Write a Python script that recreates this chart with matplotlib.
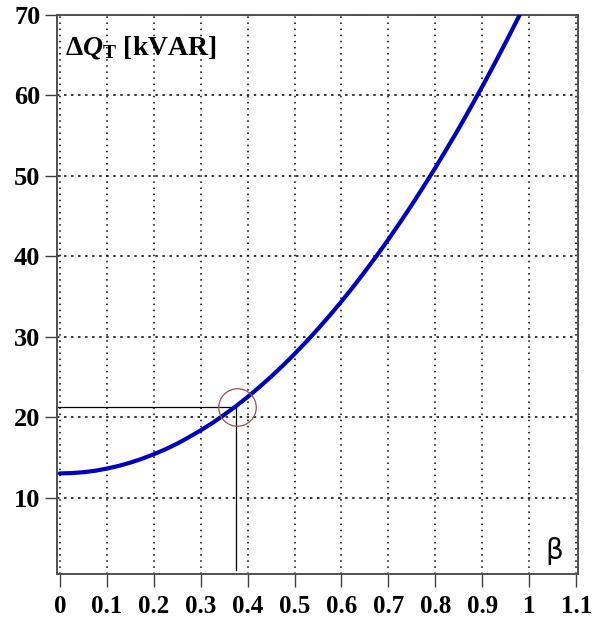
import matplotlib
matplotlib.use("Agg")
from matplotlib import pyplot as plt
import numpy as np

plt.rcParams['mathtext.fontset'] = 'custom'
plt.rcParams['mathtext.rm'] = 'Liberation Serif:bold'
plt.rcParams['mathtext.it'] = 'Liberation Serif:bold:italic'
plt.rcParams['mathtext.bf'] = 'Liberation Serif:bold'

# curve
beta = [0.0, 0.025, 0.05, 0.075, 0.1, 0.125, 0.15, 0.175, 0.2, 0.225, 0.25,
        0.275, 0.3, 0.325, 0.35, 0.375, 0.4, 0.425, 0.45, 0.475, 0.5,
        0.525, 0.55, 0.575, 0.6, 0.625, 0.65, 0.675, 0.7, 0.725, 0.75,
        0.775, 0.8, 0.825, 0.85, 0.875, 0.9, 0.925, 0.95, 0.975, 1.0]
dQ = [13.0, 13.04, 13.15, 13.33, 13.6, 13.93, 14.34, 14.82, 15.38, 16.0, 16.7,
      17.5, 18.35, 19.27, 20.28, 21.35, 22.5, 23.73, 25.03, 26.4, 27.85,
      29.37, 30.97, 32.64, 34.38, 36.2, 38.1, 40.06, 42.1, 44.22, 46.4,
      48.68, 51.0, 53.43, 55.9, 58.48, 61.1, 63.82, 66.6, 69.47, 72.4]

# operating point marked on the chart
beta_op = 0.375
dQ_op = 21.2

x_ticks = [0, 0.1, 0.2, 0.3, 0.4, 0.5, 0.6, 0.7, 0.8, 0.9, 1.0, 1.1]
x_labels = ['0', '0.1', '0.2', '0.3', '0.4', '0.5', '0.6', '0.7', '0.8', '0.9', '1', '1.1']
y_ticks = [10, 20, 30, 40, 50, 60, 70]

fig = plt.figure(figsize=(5.96, 6.19), dpi=100)
ax = fig.add_axes([0.0956, 0.0727, 0.8744, 0.9033])

ax.set_xlim(-0.006, 1.104)
ax.set_ylim(0.5, 70)

# grid: dotted verticals, short-dashed horizontals
ax.set_xticks(x_ticks)
ax.set_xticklabels(x_labels)
ax.set_yticks(y_ticks)
ax.xaxis.grid(True, color='black', linestyle=(0, (1, 3)), linewidth=1.1)
ax.yaxis.grid(True, color='black', linestyle=(0, (1.6, 3)), linewidth=1.1)

# main curve
ax.plot(beta, dQ, color='#0000c0', linewidth=3.0, solid_capstyle='round', zorder=3)

# reading lines and circle
ax.plot([ax.get_xlim()[0], beta_op], [dQ_op, dQ_op], color='black', linewidth=0.9, zorder=2)
ax.plot([beta_op, beta_op], [dQ_op, 1.0], color='black', linewidth=0.9, zorder=2)
ax.plot([beta_op + 0.003], [dQ_op], marker='o', markersize=27, markerfacecolor='none',
        markeredgecolor='#a05050', markeredgewidth=0.9, zorder=4)

# labels
ax.text(0.012, 66.0, r'$\Delta Q_{\mathrm{T}}$ [kVAR]', fontsize=20, fontweight='bold',
        family='Liberation Serif', va='center', ha='left')
ax.text(1.053, 3.3, 'β', fontsize=20, family='DejaVu Sans', ha='center', va='center')

for lab in ax.get_xticklabels() + ax.get_yticklabels():
    lab.set_family('Liberation Serif')
    lab.set_fontweight('bold')
for lab in ax.get_xticklabels():
    lab.set_fontsize(18)
for lab in ax.get_yticklabels():
    lab.set_fontsize(19)

ax.tick_params(axis='both', direction='out', length=9, width=1.0, color='#404040')
ax.tick_params(axis='x', pad=6)
ax.tick_params(axis='y', pad=3)
for sp in ax.spines.values():
    sp.set_color('#505050')
    sp.set_linewidth(1.4)

fig.savefig('out.png', dpi=100)
